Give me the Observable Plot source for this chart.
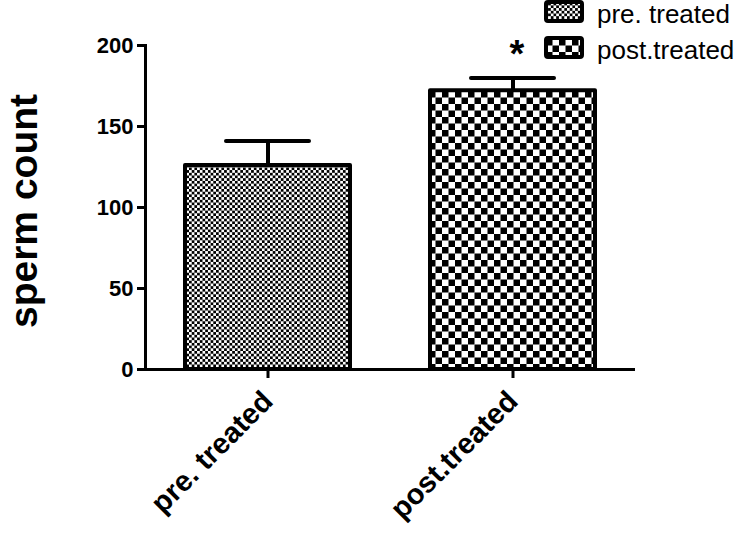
<!DOCTYPE html>
<html><head><meta charset="utf-8">
<script src="https://cdn.jsdelivr.net/npm/d3@7"></script>
<script src="https://cdn.jsdelivr.net/npm/@observablehq/plot@0.6"></script>
<style>body{margin:0;background:#fff}#chart{position:relative;width:738px;height:535px}</style>
</head><body><div id="chart"></div>
<script>
const groups = ["pre. treated", "post.treated"];
const means = [126, 172];
const sems = [15, 8];
const yTicks = [0, 50, 100, 150, 200];
const patternIds = ["fine", "coarse"];

const data = groups.map((g, i) => ({group: g, mean: means[i], top: means[i] + sems[i], pat: `url(#${patternIds[i]})`}));

const font = "Liberation Sans, Arial, sans-serif";
const plot = Plot.plot({
  width: 738, height: 535,
  marginLeft: 145, marginRight: 103, marginTop: 45, marginBottom: 166,
  style: {fontFamily: font, background: "white"},
  x: {domain: groups, padding: 0, label: null},
  y: {domain: [0, 200], label: null},
  marks: [
    Plot.barY(data, {x: "group", y: "mean", fill: "pat", stroke: "black", strokeWidth: 4, strokeLinejoin: "round", insetLeft: 40, insetRight: 40}),
    Plot.ruleX(data, {x: "group", y1: "mean", y2: "top", stroke: "black", strokeWidth: 4}),
    Plot.tickY(data, {x: "group", y: "top", stroke: "black", strokeWidth: 4, strokeLinecap: "round", insetLeft: 81, insetRight: 81}),
    Plot.ruleY([0], {stroke: "black", strokeWidth: 3}),
    Plot.frame({anchor: "left", stroke: "black", strokeWidth: 3}),
    Plot.axisY({ticks: yTicks, tickSize: 8, tickPadding: 4, strokeWidth: 3, label: null}),
    Plot.axisX({tickSize: 9, tickPadding: 18, strokeWidth: 3, tickRotate: -45, label: null})
  ]
});
document.getElementById("chart").appendChild(plot);

const svg = d3.select(plot);
const yTickText = new Set(yTicks.map(String));
svg.selectAll("text").each(function() {
  const t = this.textContent;
  if (yTickText.has(t)) d3.select(this).style("font-size", "22px").style("font-weight", "bold").style("fill", "black");
  else if (groups.includes(t)) d3.select(this).style("font-size", "29px").style("font-weight", "bold").style("fill", "black");
});

const defs = svg.insert("defs", ":first-child");
[[patternIds[0], 2.7], [patternIds[1], 6.5]].forEach(([id, s]) => {
  const p = defs.append("pattern").attr("id", id).attr("patternUnits", "userSpaceOnUse")
    .attr("width", 2 * s).attr("height", 2 * s);
  p.append("rect").attr("width", 2 * s).attr("height", 2 * s).attr("fill", "white");
  p.append("rect").attr("width", s).attr("height", s).attr("fill", "black");
  p.append("rect").attr("x", s).attr("y", s).attr("width", s).attr("height", s).attr("fill", "black");
});

// y-axis title
svg.append("text").attr("transform", "translate(37,211) rotate(-90)")
  .style("text-anchor", "middle").style("font-family", font).style("font-weight", "bold")
  .style("font-size", "39px").attr("fill", "black").text("sperm count");

// legend
const lg = svg.append("g").style("font-family", font);
groups.forEach((g, i) => {
  const y0 = 1 + i * 36;
  lg.append("rect").attr("x", 546).attr("y", y0 + 1).attr("width", 36).attr("height", 19)
    .attr("rx", 2).attr("fill", `url(#${patternIds[i]})`).attr("stroke", "black").attr("stroke-width", 4);
  lg.append("text").attr("x", 597).attr("y", y0 + 22).style("text-anchor", "start")
    .style("font-size", "26px").attr("fill", "black").text(g);
});
lg.append("text").attr("x", 517).attr("y", 67).style("text-anchor", "middle")
  .style("font-size", "38px").style("font-weight", "bold").attr("fill", "black").text("*");
</script></body></html>
